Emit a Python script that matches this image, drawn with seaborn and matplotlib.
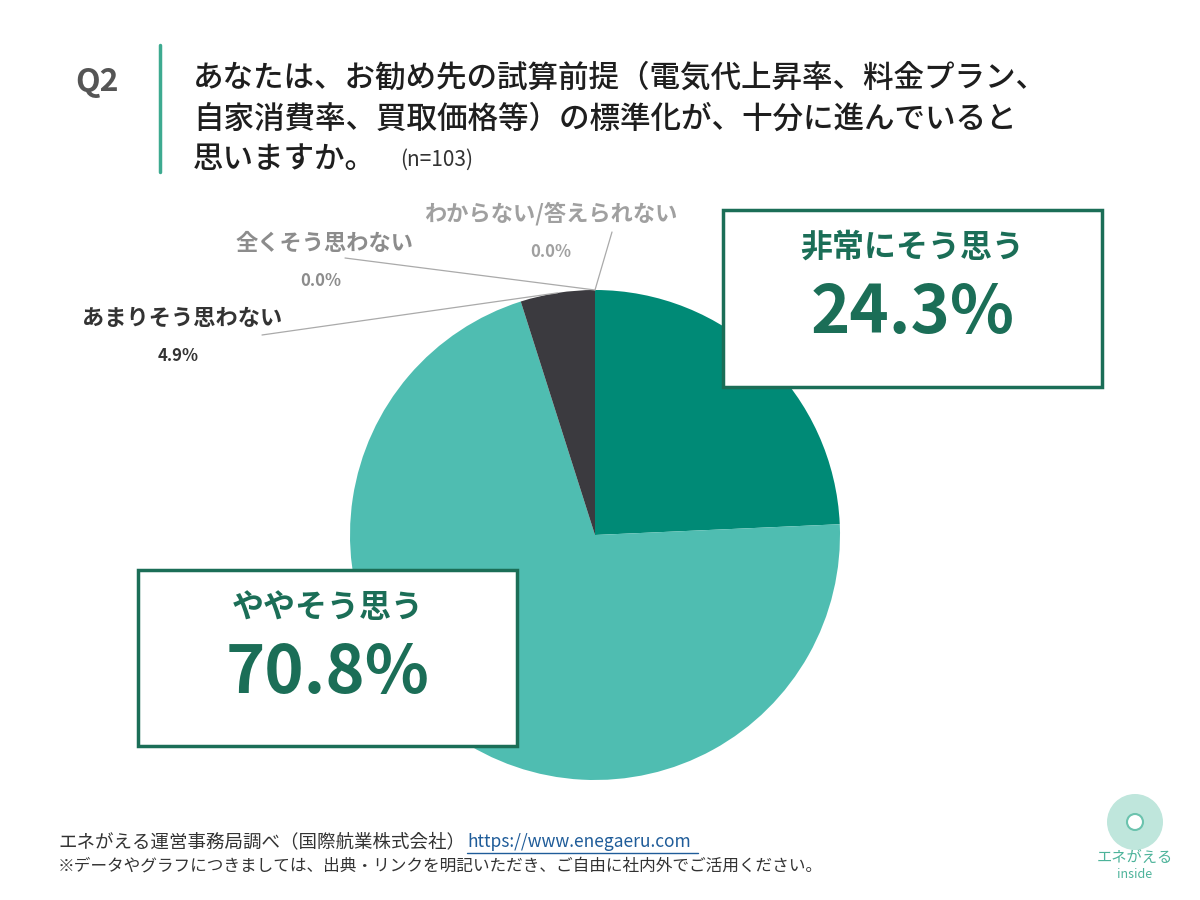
import numpy as np
import matplotlib.pyplot as plt
import seaborn as sns
from matplotlib.patches import Rectangle, Circle

# data
labels = ['非常にそう思う', 'ややそう思う', 'あまりそう思わない', '全くそう思わない', 'わからない/答えられない']
values = [24.3, 70.8, 4.9, 0.0, 0.0]
pct_labels = ['24.3%', '70.8%', '4.9%', '0.0%', '0.0%']
colors = ['#008A76', '#4FBDB1', '#3B3A3F', '#9A9A9A', '#BDBDBD']

title_lines = ['あなたは、お勧め先の試算前提（電気代上昇率、料金プラン、',
               '自家消費率、買取価格等）の標準化が、十分に進んでいると',
               '思いますか。']
footer1 = 'エネがえる運営事務局調べ（国際航業株式会社）'
footer_url = 'https://www.enegaeru.com'
footer2 = '※データやグラフにつきましては、出典・リンクを明記いただき、ご自由に社内外でご活用ください。'

sns.set_theme(style='white')
plt.rcParams['font.family'] = ['Noto Sans CJK JP', 'DejaVu Sans']

W, H = 1200, 900
fig = plt.figure(figsize=(12, 9), dpi=100)
ax = fig.add_axes([0, 0, 1, 1])
ax.set_xlim(0, W)
ax.set_ylim(0, H)

def Y(y):
    return H - y

# pie
cx, cy, r = 595, 535, 245
ax.pie(values, colors=sns.color_palette(colors), startangle=90, counterclock=False,
       center=(cx, Y(cy)), radius=r, frame=True, wedgeprops=dict(linewidth=0))
ax.set_xlim(0, W)
ax.set_ylim(0, H)
ax.axis('off')

# title
ax.text(97, Y(82), 'Q2', fontsize=23, fontweight='bold', color='#555555', ha='center', va='center')
ax.plot([160, 160], [Y(45), Y(172)], color='#3DAA90', lw=2.5)
for i, line in enumerate(title_lines):
    ax.text(193, Y(78 + 41 * i), line, fontsize=22, fontweight='medium', color='#1E1E1E',
            ha='left', va='center')
ax.text(400, Y(160), '(n=103)', fontsize=15, color='#333333', ha='left', va='center')

# small labels with leader lines from the pie edge
cum = np.cumsum([0] + values[:-1])
mid_angles = [np.deg2rad(90 - 3.6 * (c + v / 2)) for c, v in zip(cum, values)]
small = {
    2: dict(pos=(182, 318), line_end=(262, 335), col='#333333'),
    3: dict(pos=(325, 243), line_end=(345, 258), col='#8C8C8C'),
    4: dict(pos=(551, 214), line_end=(612, 232), col='#A0A0A0'),
}
for idx, d in small.items():
    a = mid_angles[idx]
    px, py = cx + r * np.cos(a), cy - r * np.sin(a)
    ax.plot([d['line_end'][0], px], [Y(d['line_end'][1]), Y(py)], color='#AAAAAA', lw=0.9, zorder=1)
    ax.text(d['pos'][0], Y(d['pos'][1]), labels[idx], fontsize=16, fontweight='bold',
            color=d['col'], ha='center', va='center')
    ax.text(d['pos'][0] + (0 if idx == 4 else -4), Y(d['pos'][1] + 38), pct_labels[idx],
            fontsize=12, fontweight='bold', color=d['col'], ha='center', va='center')

# big callout boxes
boxes = {0: (723, 210, 1102, 387), 1: (138, 570, 517, 746)}
green = '#1B6E57'
for idx, (x0, y0, x1, y1) in boxes.items():
    ax.add_patch(Rectangle((x0, Y(y1)), x1 - x0, y1 - y0, facecolor='white',
                           edgecolor=green, lw=2.5, zorder=5))
    xc = (x0 + x1) / 2
    ax.text(xc, Y(y0 + 38), labels[idx], fontsize=23, fontweight='bold', color=green,
            ha='center', va='center', zorder=6)
    ax.text(xc, Y(y0 + 104), pct_labels[idx], fontsize=48, fontweight='bold', color=green,
            ha='center', va='center', zorder=6)

# footer
ax.text(58, Y(842), footer1, fontsize=13.3, color='#333333', ha='left', va='center')
ax.text(467, Y(842), footer_url, fontsize=12.5, color='#1F5C99', ha='left', va='center')
ax.plot([467, 698], [Y(853), Y(853)], color='#1F5C99', lw=1)
ax.text(58, Y(866), footer2, fontsize=12, color='#333333', ha='left', va='center')

# logo
ax.add_patch(Circle((1135, Y(822)), 28, facecolor='#BFE6DC', edgecolor='none'))
ax.add_patch(Circle((1135, Y(822)), 8, facecolor='white', edgecolor='#6CC3AE', lw=1.5))
ax.text(1135, Y(857), 'エネがえる', fontsize=11, color='#4DB39A', ha='center', va='center')
ax.text(1135, Y(874), 'inside', fontsize=9, style='italic', color='#4DB39A', ha='center', va='center')

fig.savefig('out.png', dpi=100)
